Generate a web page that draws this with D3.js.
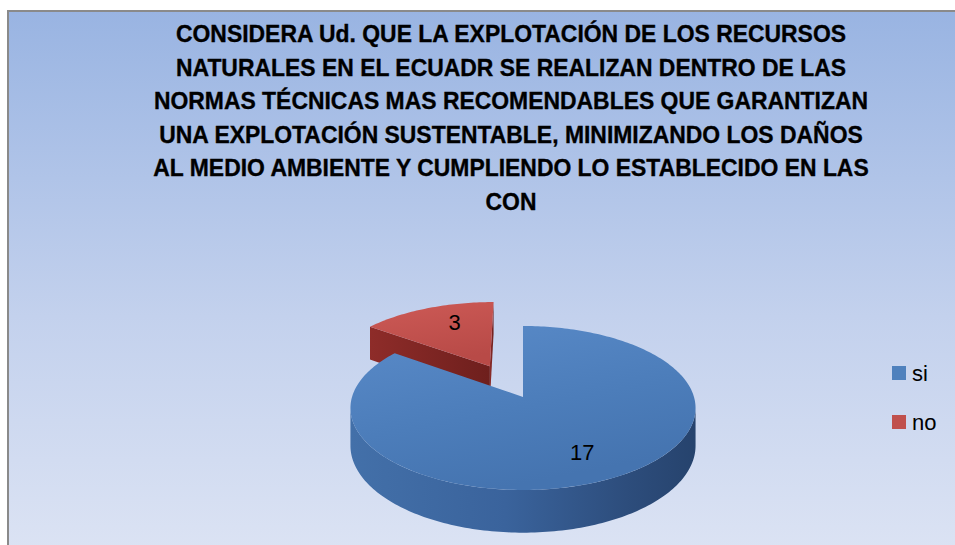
<!DOCTYPE html>
<html>
<head>
<meta charset="utf-8">
<script src="https://cdn.jsdelivr.net/npm/d3@7"></script>
<style>
  body { margin: 0; background: #fff; }
  svg { display: block; }
</style>
</head>
<body>
<figure id="pie" style="margin:0"></figure>
<script>
// data
const categories = ["si", "no"];
const values = [17, 3];
const colors = ["#4f81bd", "#c0504d"];
const titleLines = [
  "CONSIDERA Ud. QUE LA EXPLOTACIÓN DE LOS RECURSOS",
  "NATURALES EN EL ECUADR SE REALIZAN DENTRO DE LAS",
  "NORMAS TÉCNICAS MAS RECOMENDABLES  QUE GARANTIZAN",
  "UNA EXPLOTACIÓN SUSTENTABLE, MINIMIZANDO LOS DAÑOS",
  "AL MEDIO AMBIENTE Y CUMPLIENDO LO ESTABLECIDO EN LAS",
  "CON"
];
const explode = [0, 0.45];

const width = 955, height = 545;

const svg = d3.select("figure#pie")
  .append("svg")
  .attr("width", width)
  .attr("height", height);

const defs = svg.append("defs");

// chart area background
const bg = defs.append("linearGradient").attr("id", "bg")
  .attr("x1", 0).attr("y1", 0).attr("x2", 0).attr("y2", 1);
bg.append("stop").attr("offset", "0%").attr("stop-color", "#99b4e2");
bg.append("stop").attr("offset", "55%").attr("stop-color", "#c3d1ed");
bg.append("stop").attr("offset", "100%").attr("stop-color", "#dde4f4");

svg.append("rect")
  .attr("x", 8).attr("y", 11)
  .attr("width", width + 10).attr("height", height + 10)
  .attr("fill", "url(#bg)")
  .attr("stroke", "#8a8a8a")
  .attr("stroke-width", 2);

// title
const title = svg.append("g")
  .attr("font-family", "'Liberation Sans', Arial, sans-serif")
  .attr("font-weight", "bold")
  .attr("font-size", 23.5)
  .attr("fill", "#000")
  .attr("stroke", "#000")
  .attr("stroke-width", 0.35)
  .style("white-space", "pre");

title.selectAll("text")
  .data(titleLines)
  .enter()
  .append("text")
  .attr("x", 511)
  .attr("y", (d, i) => 42 + i * 33.5)
  .attr("text-anchor", "middle")
  .text(d => d)
  .each(function() {
    const w = this.getComputedTextLength();
    d3.select(this)
      .attr("textLength", w * 0.975)
      .attr("lengthAdjust", "spacingAndGlyphs");
  });

// 3D pie geometry
const CX = 523, CY = 397, RX = 171, RY = 80.5, P = 0.134, T = 37;

function proj(theta, r, h, off) {
  const X = off[0] + r * Math.sin(theta);
  const Z = off[1] + r * Math.cos(theta);
  const w = 1 + P * Z;
  return [CX + X * RX / w, CY - Z * RY / w + h / w];
}

function arcPts(a0, a1, h, off) {
  const n = Math.max(2, Math.ceil(Math.abs(a1 - a0) / 0.02));
  return d3.range(n + 1).map(i => proj(a0 + (a1 - a0) * i / n, 1, h, off));
}

const line = d3.line();

const pie = d3.pie().sort(null).value(d => d);
const slices = pie(values).map((s, i) => {
  const mid = (s.startAngle + s.endAngle) / 2;
  const e = explode[i];
  return {
    ...s,
    i,
    mid,
    off: [e * Math.sin(mid), e * Math.cos(mid)]
  };
});

// gradients for faces
function grad(id, stops, x2, y2) {
  const g = defs.append("linearGradient").attr("id", id)
    .attr("x1", 0).attr("y1", 0).attr("x2", x2).attr("y2", y2);
  stops.forEach(([o, c]) => g.append("stop").attr("offset", o).attr("stop-color", c));
}
grad("top0", [["0%", "#5a8bc9"], ["60%", "#4c7dba"], ["100%", "#4574b0"]], 0.4, 1);
grad("top1", [["0%", "#cd5a56"], ["100%", "#b84a47"]], 0.3, 1);
grad("wall0", [["0%", "#4370a9"], ["45%", "#3a639c"], ["80%", "#2d4d7c"], ["100%", "#26436d"]], 1, 0);
grad("wall1", [["0%", "#8e2c29"], ["100%", "#6e1f1d"]], 1, 0);

const pieG = svg.append("g");
const sil0 = Math.acos(-P), sil1 = 2 * Math.PI - Math.acos(-P);

// draw back (exploded) slice first, then front slice
const order = slices.slice().sort((a, b) => b.off[1] - a.off[1]);

order.forEach(s => {
  const g = pieG.append("g");
  const c0 = proj(0, 0, 0, s.off), c1 = proj(0, 0, T, s.off);

  // radial side faces of the exploded slice
  if (s.off[0] !== 0 || s.off[1] !== 0) {
    [s.endAngle, s.startAngle].forEach(a => {
      const p0 = proj(a, 1, 0, s.off), p1 = proj(a, 1, T, s.off);
      g.append("path")
        .attr("d", line([c0, p0, p1, c1]) + "Z")
        .attr("fill", "url(#wall" + s.i + ")");
    });
  }

  // outer wall (front part only)
  const w0 = Math.max(s.startAngle, sil0), w1 = Math.min(s.endAngle, sil1);
  if (w1 > w0) {
    const topEdge = arcPts(w0, w1, 0, s.off);
    const botEdge = arcPts(w1, w0, T, s.off);
    g.append("path")
      .attr("d", line(topEdge.concat(botEdge)) + "Z")
      .attr("fill", "url(#wall" + s.i + ")");
  }

  // top face
  const top = [c0].concat(arcPts(s.startAngle, s.endAngle, 0, s.off));
  g.append("path")
    .attr("d", line(top) + "Z")
    .attr("fill", "url(#top" + s.i + ")");
});

// data labels
pieG.selectAll("text.lbl")
  .data(slices)
  .enter()
  .append("text")
  .attr("class", "lbl")
  .attr("x", d => proj(d.mid, 0.7, 0, d.off)[0] + (d.i ? 10 : 0))
  .attr("y", d => proj(d.mid, 0.7, 0, d.off)[1] - (d.i ? 2 : 0))
  .attr("dy", "0.36em")
  .attr("text-anchor", "middle")
  .attr("font-family", "'Liberation Sans', Arial, sans-serif")
  .attr("font-size", 22)
  .attr("fill", "#000")
  .text(d => d.data);

// legend
const legend = svg.append("g")
  .attr("font-family", "'Liberation Sans', Arial, sans-serif")
  .attr("font-size", 22);

const items = legend.selectAll("g")
  .data(categories)
  .enter()
  .append("g")
  .attr("transform", (d, i) => "translate(892," + (366 + i * 49) + ")");

items.append("rect")
  .attr("width", 14).attr("height", 14)
  .attr("fill", (d, i) => colors[i]);

items.append("text")
  .attr("x", 20).attr("y", 7)
  .attr("dy", "0.36em")
  .text(d => d);
</script>
</body>
</html>
